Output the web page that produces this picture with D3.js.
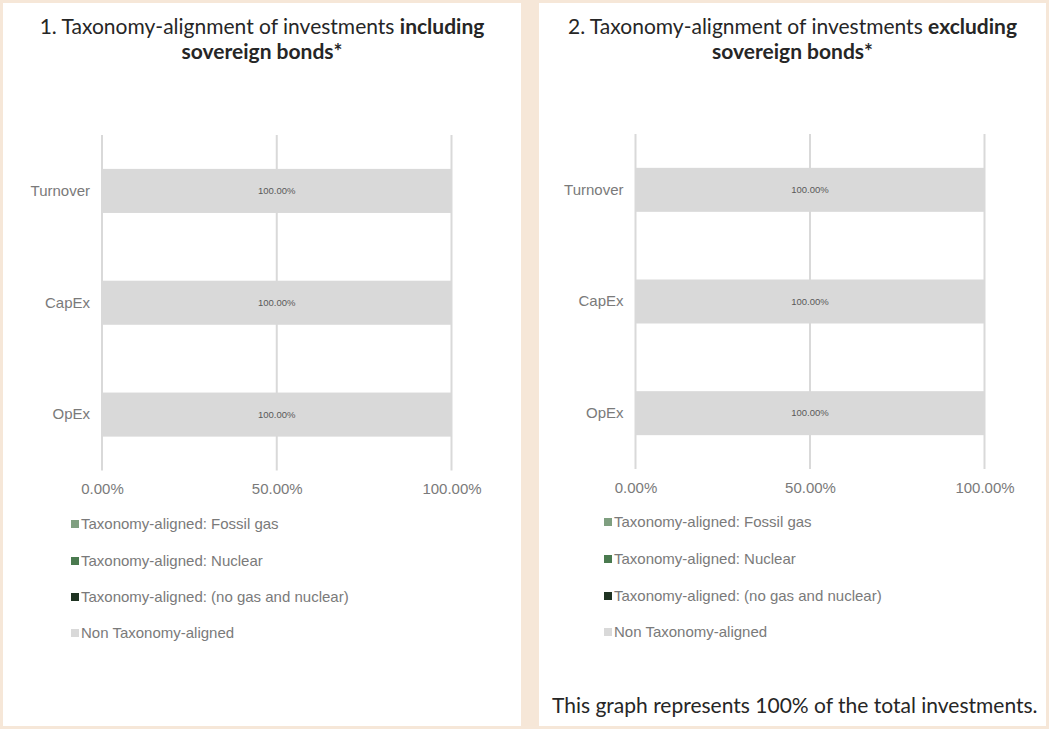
<!DOCTYPE html>
<html>
<head>
<meta charset="utf-8">
<script src="https://cdn.jsdelivr.net/npm/d3@7"></script>
<style>
  body { margin: 0; background: #f6e7d8; }
  svg { display: block; }
</style>
</head>
<body>
<div id="chart"></div>
<script>
// data
var categories = ["Turnover", "CapEx", "OpEx"];
var seriesNames = ["Taxonomy-aligned: Fossil gas", "Taxonomy-aligned: Nuclear",
                   "Taxonomy-aligned: (no gas and nuclear)", "Non Taxonomy-aligned"];
var seriesColors = ["#7f9f80", "#4a7a4f", "#1f3322", "#d9d9d9"];
var xTicks = [0, 50, 100];

// chart 1 - including sovereign bonds
var incFossilGas = [0, 0, 0];
var incNuclear = [0, 0, 0];
var incNoGasNuclear = [0, 0, 0];
var incNonAligned = [100, 100, 100];

// chart 2 - excluding sovereign bonds
var excFossilGas = [0, 0, 0];
var excNuclear = [0, 0, 0];
var excNoGasNuclear = [0, 0, 0];
var excNonAligned = [100, 100, 100];

var W = 1049, H = 729;
var svg = d3.select("#chart").append("svg")
    .attr("width", W).attr("height", H);

svg.append("rect").attr("width", W).attr("height", H).attr("fill", "#f6e7d8");

var titleFont = "Lato, 'Open Sans', sans-serif";
var axisFont = "'Liberation Sans', Arial, sans-serif";
var grey = "#7a7a7a";

function buildRows(a, b, c, d) {
    return categories.map(function(cat, i) {
        var r = {category: cat};
        r[seriesNames[0]] = a[i];
        r[seriesNames[1]] = b[i];
        r[seriesNames[2]] = c[i];
        r[seriesNames[3]] = d[i];
        return r;
    });
}

function drawPanel(o) {
    var g = svg.append("g");

    g.append("rect")
        .attr("x", o.px).attr("y", 3)
        .attr("width", o.pw).attr("height", 723)
        .attr("fill", "#ffffff");

    // title
    var cx = o.px + o.pw / 2;
    var t1 = g.append("text")
        .attr("x", cx).attr("y", 34)
        .attr("text-anchor", "middle")
        .style("font-family", titleFont).style("font-size", "21px")
        .attr("fill", "#262626");
    t1.append("tspan").text(o.title1);
    t1.append("tspan").attr("font-weight", "bold").text(o.titleBold);
    g.append("text")
        .attr("x", cx).attr("y", 59)
        .attr("text-anchor", "middle")
        .style("font-family", titleFont).style("font-size", "21px")
        .attr("font-weight", "bold")
        .attr("fill", "#262626")
        .text("sovereign bonds*");

    var x = d3.scaleLinear().domain([0, 100]).range([o.x0, o.x1]);
    var y = d3.scaleBand().domain(categories)
        .range([o.y0, o.y1])
        .paddingInner(0.606).paddingOuter(0.303);

    // gridlines
    g.selectAll("line.grid")
        .data(xTicks)
        .enter()
        .append("line")
        .attr("class", "grid")
        .attr("x1", function(d) { return x(d); })
        .attr("x2", function(d) { return x(d); })
        .attr("y1", o.y0).attr("y2", o.y1)
        .attr("stroke", "#d9d9d9")
        .attr("stroke-width", 2);

    var stack = d3.stack().keys(seriesNames);
    var layers = stack(o.rows);

    var layer = g.selectAll("g.layer")
        .data(layers)
        .enter()
        .append("g")
        .attr("class", "layer")
        .attr("fill", function(d, i) { return seriesColors[i]; });

    layer.selectAll("rect")
        .data(function(d) { return d; })
        .enter()
        .append("rect")
        .attr("x", function(d) { return x(d[0]); })
        .attr("y", function(d) { return y(d.data.category); })
        .attr("width", function(d) { return x(d[1]) - x(d[0]); })
        .attr("height", y.bandwidth());

    // value labels, only on segments that have a value
    layer.selectAll("text")
        .data(function(d) { return d.filter(function(s) { return s[1] - s[0] > 0; }); })
        .enter()
        .append("text")
        .attr("x", function(d) { return (x(d[0]) + x(d[1])) / 2; })
        .attr("y", function(d) { return y(d.data.category) + y.bandwidth() / 2; })
        .attr("dy", "0.35em")
        .attr("text-anchor", "middle")
        .style("font-family", axisFont).style("font-size", "9.5px")
        .attr("fill", "#595959")
        .text(function(d) { return (d[1] - d[0]).toFixed(2) + "%"; });

    // category axis
    var yAxis = g.append("g")
        .attr("transform", "translate(" + o.x0 + ",0)")
        .call(d3.axisLeft(y).tickSize(0).tickPadding(12));
    yAxis.select(".domain").remove();
    yAxis.selectAll("text")
        .style("font-family", axisFont).style("font-size", "15px")
        .attr("fill", grey);

    // value axis
    var xAxis = g.append("g")
        .attr("transform", "translate(0," + o.y1 + ")")
        .call(d3.axisBottom(x).tickValues(xTicks).tickSize(0).tickPadding(13)
            .tickFormat(function(d) { return d.toFixed(2) + "%"; }));
    xAxis.select(".domain").remove();
    xAxis.selectAll("text")
        .style("font-family", axisFont).style("font-size", "15px")
        .attr("fill", grey);

    // legend
    var legend = g.selectAll("g.legend")
        .data(seriesNames)
        .enter()
        .append("g")
        .attr("class", "legend")
        .attr("transform", function(d, i) { return "translate(" + o.lx + "," + o.ly[i] + ")"; });
    legend.append("rect")
        .attr("x", 0).attr("y", -4)
        .attr("width", 8).attr("height", 8)
        .attr("fill", function(d, i) { return seriesColors[i]; });
    legend.append("text")
        .attr("x", 10).attr("dy", "0.35em")
        .style("font-family", axisFont).style("font-size", "15px")
        .attr("fill", grey)
        .text(function(d) { return d; });

    return g;
}

drawPanel({
    px: 3, pw: 518,
    title1: "1. Taxonomy-alignment of investments ",
    titleBold: "including",
    x0: 102, x1: 451.5, y0: 135, y1: 470.5,
    rows: buildRows(incFossilGas, incNuclear, incNoGasNuclear, incNonAligned),
    lx: 71, ly: [524, 561, 597, 633]
});

var p2 = drawPanel({
    px: 539, pw: 507,
    title1: "2. Taxonomy-alignment of investments ",
    titleBold: "excluding",
    x0: 635.5, x1: 984.5, y0: 134, y1: 469,
    rows: buildRows(excFossilGas, excNuclear, excNoGasNuclear, excNonAligned),
    lx: 604, ly: [522, 559, 596, 632]
});

p2.append("text")
    .attr("x", 552).attr("y", 713)
    .style("font-family", titleFont).style("font-size", "21px")
    .attr("fill", "#262626")
    .text("This graph represents 100% of the total investments.");
</script>
</body>
</html>
